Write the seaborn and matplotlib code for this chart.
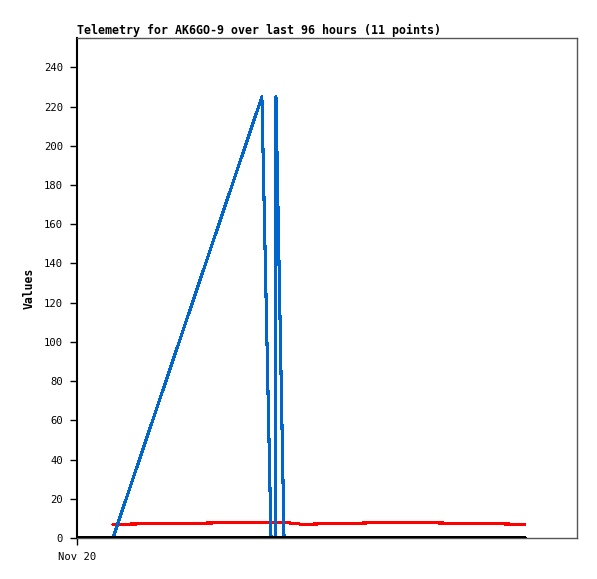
import matplotlib
matplotlib.use("Agg")
import matplotlib.pyplot as plt
import seaborn as sns
import pandas as pd
import numpy as np
from datetime import datetime, timedelta

# ---- data ----
start = datetime(2024, 11, 20, 0, 0)
hours = [6.9, 35.5, 37.25, 38.1, 38.2, 39.75, 43.2, 52.4, 61.6, 73.5, 86.0]
blue_vals = [0, 225, 0, 0, 225, 0, 0, 0, 0, 0, 0]
red_vals = [7.0, 8.0, 8.0, 8.0, 8.0, 8.0, 7.0, 7.5, 8.0, 7.5, 7.0]
black_hours = [0.0, 86.0]
black_vals = [0, 0]
y_ticks = list(range(0, 241, 20))
x_tick_label = "Nov 20"
title = "Telemetry for AK6GO-9 over last 96 hours (11 points)"

times = [start + timedelta(hours=h) for h in hours]
df = pd.DataFrame({
    "time": times * 2,
    "value": blue_vals + red_vals,
    "series": ["blue"] * len(times) + ["red"] * len(times),
})
black_df = pd.DataFrame({
    "time": [start + timedelta(hours=h) for h in black_hours],
    "value": black_vals,
})

sns.set_style("white")
plt.rcParams["font.family"] = ["DejaVu Sans Mono", "DejaVu Sans"]
plt.rcParams["text.color"] = "black"
plt.rcParams["axes.labelcolor"] = "black"
plt.rcParams["xtick.color"] = "black"
plt.rcParams["ytick.color"] = "black"

fig = plt.figure(figsize=(5.97, 5.79), dpi=100)
W, H = 597, 579
ax = fig.add_axes([77 / W, (H - 538) / H, 500 / W, 500 / H])

sns.lineplot(data=df[df.series == "red"], x="time", y="value", color="#ff0000",
             linewidth=1.5, ax=ax, zorder=3, estimator=None, sort=False, antialiased=False)
sns.lineplot(data=df[df.series == "blue"], x="time", y="value", color="#0066cc",
             linewidth=1.5, ax=ax, zorder=4, estimator=None, sort=False, antialiased=False)
sns.lineplot(data=black_df, x="time", y="value", color="#000000",
             linewidth=1.6, ax=ax, zorder=5, estimator=None, antialiased=False)

ax.set_xlim(start, start + timedelta(hours=96))
ax.set_ylim(0, 255)
ax.set_yticks(y_ticks)
ax.set_yticklabels([str(v) for v in y_ticks], fontsize=7.6)
ax.set_xticks([start])
ax.set_xticklabels([x_tick_label], fontsize=7.6)
ax.tick_params(axis="both", direction="out", length=5, width=1, colors="black", pad=5,
               left=True, bottom=True)
ax.set_xlabel("")
ax.set_ylabel("Values", fontsize=8.3, fontweight="bold", color="black")
ax.yaxis.set_label_coords(-0.082, 0.5)
ax.set_title(title, fontsize=8.35, fontweight="bold", loc="left", pad=3, color="black")

for s in ["top", "right"]:
    ax.spines[s].set_color("#555555")
    ax.spines[s].set_linewidth(1)
ax.spines["left"].set_color("black")
ax.spines["left"].set_linewidth(1.5)
ax.spines["bottom"].set_color("#555555")
ax.spines["bottom"].set_linewidth(1)
ax.grid(False)

fig.savefig("out.png", dpi=100)
